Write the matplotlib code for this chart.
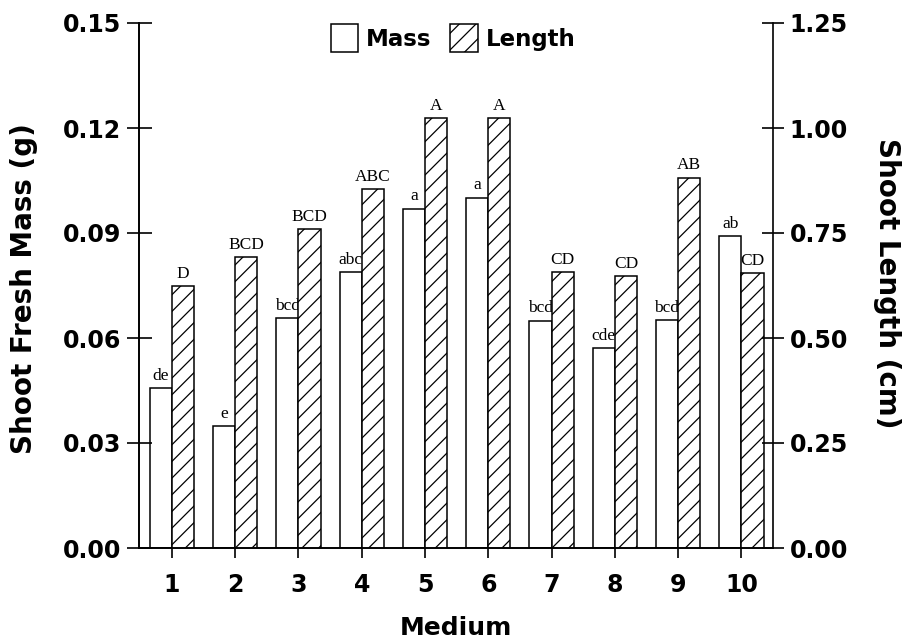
import numpy as np
import matplotlib
matplotlib.use("Agg")
import matplotlib.pyplot as plt

# data
medium = [1, 2, 3, 4, 5, 6, 7, 8, 9, 10]
mass = [0.0458, 0.0349, 0.0658, 0.0788, 0.0970, 0.1001, 0.0650, 0.0571, 0.0651, 0.0891]
length = [0.624, 0.692, 0.759, 0.854, 1.023, 1.023, 0.656, 0.648, 0.882, 0.654]
mass_letters = ["de", "e", "bcd", "abc", "a", "a", "bcd", "cde", "bcd", "ab"]
length_letters = ["D", "BCD", "BCD", "ABC", "A", "A", "CD", "CD", "AB", "CD"]

plt.rcParams['hatch.linewidth'] = 0.9
sans = 'DejaVu Sans'
serif = 'Liberation Serif'

fig = plt.figure(figsize=(9.10, 6.42), dpi=100)
ax = fig.add_axes([139/910, 1 - 548/642, (773-139)/910, (548-23)/642])
ax2 = ax.twinx()

x = np.array(medium)
w = 0.35
b1 = ax.bar(x - w/2, mass, width=w, facecolor='white', edgecolor='black',
            linewidth=1.1, label='Mass')
b2 = ax2.bar(x + w/2, length, width=w, facecolor='white', edgecolor='black',
             linewidth=1.1, hatch='//', label='Length')

# letters above bars
for xi, v, t in zip(x, mass, mass_letters):
    ax.annotate(t, (xi - w/2, v), xytext=(0, 3), textcoords='offset points',
                ha='center', va='bottom', fontsize=12.5, family=serif)
for xi, v, t in zip(x, length, length_letters):
    ax2.annotate(t, (xi + w/2, v), xytext=(0, 3), textcoords='offset points',
                 ha='center', va='bottom', fontsize=12.5, family=serif)

ax.set_xlim(0.48, 10.5)
ax.set_ylim(0, 0.15)
ax2.set_ylim(0, 1.25)
ax.set_yticks([0, 0.03, 0.06, 0.09, 0.12, 0.15])
ax.set_yticklabels(['0.00', '0.03', '0.06', '0.09', '0.12', '0.15'])
ax2.set_yticks([0, 0.25, 0.5, 0.75, 1.0, 1.25])
ax2.set_yticklabels(['0.00', '0.25', '0.50', '0.75', '1.00', '1.25'])
ax.set_xticks(medium)

for a in (ax, ax2):
    a.spines['top'].set_visible(False)
    for s in a.spines.values():
        s.set_linewidth(1.2)
ax.spines['right'].set_visible(False)

ax.tick_params(axis='y', direction='inout', length=18, width=1.2, pad=4,
               labelsize=17)
ax2.tick_params(axis='y', direction='inout', length=16, width=1.2, pad=4,
                labelsize=17)
ax.tick_params(axis='x', direction='out', length=7, width=1.2, pad=11,
               labelsize=17)
for lab in ax.get_xticklabels() + ax.get_yticklabels() + ax2.get_yticklabels():
    lab.set_fontfamily(sans)
    lab.set_fontweight('bold')

ax.set_xlabel('Medium', fontsize=18, fontweight='bold', family=sans)
ax.xaxis.set_label_coords(0.5, -0.152)
ax.xaxis.label.set_va('center')
ax.set_ylabel('Shoot Fresh Mass (g)', fontsize=20, fontweight='bold', family=sans)
ax.yaxis.set_label_coords(-0.181, 0.495)
ax.yaxis.label.set_va('center')
ax2.set_ylabel('Shoot Length (cm)', fontsize=20, fontweight='bold', family=sans,
               rotation=270)
ax2.yaxis.set_label_coords(1.18, 0.505)
ax2.yaxis.label.set_va('center')

fig.legend(handles=[b1, b2], labels=['Mass', 'Length'], loc='center',
           bbox_to_anchor=(453/910, 1 - 38/642), ncol=2, frameon=False,
           prop={'family': sans, 'weight': 'bold', 'size': 16.5},
           handlelength=1.2, handleheight=1.5, handletextpad=0.35,
           columnspacing=0.8)

fig.savefig('out.png', dpi=100)
